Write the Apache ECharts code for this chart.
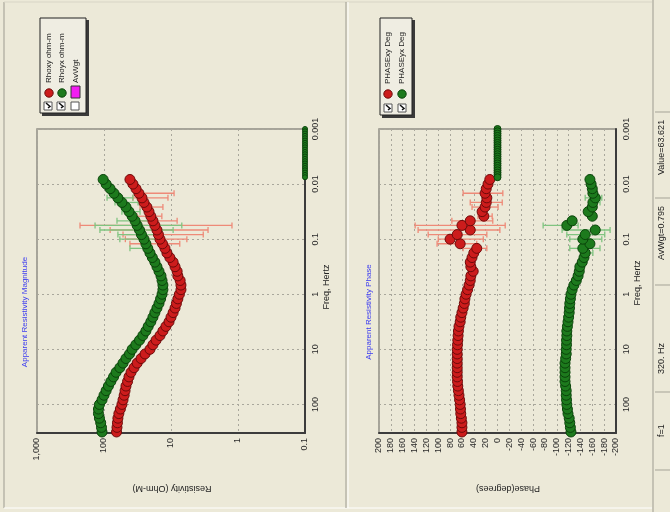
<!DOCTYPE html>
<html><head><meta charset="utf-8">
<script src="https://cdn.jsdelivr.net/npm/echarts@6/dist/echarts.min.js"></script>
<style>html,body{margin:0;padding:0;background:#ECE9D8;overflow:hidden}#c{width:670px;height:512px}</style>
</head><body><div id="c"></div><script>
// ---------- DATA ----------
const freqs = [316.2, 261.0, 215.4, 177.8, 146.8, 121.2, 100.0, 82.54, 68.13, 56.23,
  46.42, 38.31, 31.62, 26.10, 21.54, 17.78, 14.68, 12.12, 10.00, 8.254,
  6.813, 5.623, 4.642, 3.831, 3.162, 2.610, 2.154, 1.778, 1.468, 1.212,
  1.000, 0.8254, 0.6813, 0.5623, 0.4642, 0.3831, 0.3162, 0.2610, 0.2154, 0.1778,
  0.1468, 0.1212, 0.1000, 0.08254, 0.06813, 0.05623, 0.04642, 0.03831, 0.03162, 0.02610,
  0.02154, 0.01778, 0.01468, 0.01212, 0.01000, 0.008254];
const rhoXY = [65, 64, 63, 62, 60, 57, 54, 52, 50, 48.5,
  47, 44.5, 42.4, 39.5, 35.6, 32, 28, 24.4, 20.6, 18.6,
  16.7, 14.6, 13.2, 11.9, 10.7, 10, 9.3, 8.7, 8.3, 7.9,
  7.5, 7.1, 7.1, 7.3, 7.9, 8.1, 8.7, 9.3, 10.4, 11.5,
  12.3, 13.4, 14.6, 15.4, 16.2, 17.4, 18.6, 20, 21.3, 22.9,
  25.3, 27.1, 30.1, 33.3, 37, 41];
const rhoYX = [107, 109, 112, 117, 121, 121, 117, 107, 100, 93,
  86, 79, 72, 66, 58, 52, 47, 41.6, 38, 33.5,
  29.5, 26.3, 23.7, 21.9, 20, 18.6, 17.4, 16.2, 15.1, 14.3,
  13.6, 13.2, 13.2, 13.6, 14.1, 15.1, 16.2, 17.4, 19, 20.6,
  22.2, 23.7, 25.3, 27.6, 29.5, 32, 34.4, 38, 42.3, 47,
  54, 62, 71, 81, 93, 103];
const phaseXY = [60, 60, 60, 61, 62, 62.5, 63, 64, 65, 66,
  67, 67.5, 68, 68, 68, 68, 68, 68, 68, 67.5,
  67, 66.5, 66, 65, 63, 62, 60, 58, 56, 55,
  53, 50.5, 48, 46, 45, 41, 45, 46, 43, 40,
  35, 63, 80, 68, 46, 60, 46, 23, 26, 21,
  19, 18, 21, 19, 16, 13];
const phaseYX = [-124, -123, -122, -121, -119, -118, -117, -116.5, -116, -116,
  -115, -114, -114, -114, -114, -114, -115, -116, -116, -116.5,
  -116.5, -117, -117, -118, -119, -120, -121, -121.5, -122, -123,
  -124, -126, -129, -133, -136, -138, -139, -143, -146, -148,
  -144, -156, -144, -148, -165, -117, -126, -160, -153, -160,
  -161, -165, -161, -160, -158, -156];
// error bars: [freq, low, high]
const rhoXYErr = [[0.01468, 9, 33], [0.01778, 11.1, 37], [0.02610, 13.2, 29], [0.03831, 13.7, 32.4],
  [0.04642, 8.1, 37], [0.05623, 1.23, 228], [0.06813, 2.8, 81], [0.08254, 3.3, 52], [0.1, 5.8, 48], [0.1212, 7.4, 41]];
const rhoYXErr = [[0.01778, 37, 90], [0.02154, 31, 68.5], [0.03162, 29, 54], [0.04642, 18.6, 64],
  [0.05623, 6.9, 136], [0.06813, 9.3, 115], [0.08254, 14.6, 62], [0.1, 16.2, 58], [0.1468, 20.6, 41]];
const phaseXYErr = [[0.01468, -9, 58], [0.02154, -8, 46], [0.02610, -1, 43], [0.03831, 9, 33], [0.04642, 8, 77],
  [0.05623, -13, 139], [0.06813, -4, 134], [0.08254, 18, 117], [0.1, 24, 100], [0.1212, 35, 102], [0.1468, 18, 58]];
const phaseYXErr = [[0.01778, -176, -148], [0.02154, -173, -156], [0.05623, -136, -77], [0.06813, -190, -109],
  [0.08254, -181, -117], [0.1, -176, -122], [0.1468, -173, -122], [0.1778, -161, -144]];
// placeholder (no-data) samples at the low-frequency end
const blankFreqs = [0.001, 0.00110, 0.00121, 0.00133, 0.00147, 0.00162, 0.00178, 0.00196, 0.00215, 0.00237, 0.00261,
  0.00287, 0.00316, 0.00348, 0.00383, 0.00422, 0.00464, 0.00511, 0.00562, 0.00619, 0.00681, 0.00750];
const blankRho = [0.1, 0.1, 0.1, 0.1, 0.1, 0.1, 0.1, 0.1, 0.1, 0.1, 0.1, 0.1, 0.1, 0.1, 0.1, 0.1, 0.1, 0.1, 0.1, 0.1, 0.1, 0.1];
const blankPhase = [0, 0, 0, 0, 0, 0, 0, 0, 0, 0, 0, 0, 0, 0, 0, 0, 0, 0, 0, 0, 0, 0];
// tick labels
const freqTickLabels = {'-3': '0.001', '-2': '0.01', '-1': '0.1', '0': '1', '1': '10', '2': '100'};
const rhoTickLabels = {'-1': '0.1', '0': '1', '1': '10', '2': '100', '3': '1,000'};
const legendRho = ['Rhoxy ohm-m', 'Rhoyx ohm-m', 'AvWgt'];
const legendPhase = ['PHASExy Deg', 'PHASEyx Deg'];
const statusTexts = ['f=1', '320. Hz', 'AvWgt=0.795', 'Value=63.621'];

// ---------- STYLE ----------
const FONT = 'Liberation Sans, Arial, sans-serif';
const RED = '#cc1c1c', RED_B = '#6e0a0a', GRN = '#1d7a1d', GRN_B = '#0a440a';
const RED_E = '#ee8a78', GRN_E = '#80c480';
const BG = '#ECE9D8';

function logLabel(map) {
  return function (v) {
    const l = Math.log10(v), e = Math.round(l);
    if (Math.abs(l - e) > 0.01) return '';
    return map[String(e)] || '';
  };
}
function pairs(xs, ys) { return xs.map((f, i) => [ys[i], f]); }

const darkAxis = {show: true, onZero: false, lineStyle: {color: '#3c3c3c', width: 2}};
const dotted = {show: true, lineStyle: {color: '#a9a79c', type: [2, 3], width: 1}};
const lbl = {fontSize: 9, color: '#2a2a2a', fontFamily: FONT};

function freqAxis(g) {
  return {gridIndex: g, type: 'log', logBase: 10, min: 0.001, max: 330, inverse: true, position: 'right',
    axisLine: darkAxis, axisTick: {show: false}, splitLine: dotted,
    axisLabel: Object.assign({rotate: 90, margin: 6, formatter: logLabel(freqTickLabels), showMaxLabel: false}, lbl)};
}
function errSeries(g, data, color) {
  return {type: 'custom', xAxisIndex: g, yAxisIndex: g, data: data, encode: {x: [1, 2], y: 0},
    z: 2, silent: true, clip: true,
    renderItem: function (params, api) {
      const f = api.value(0), a = api.coord([api.value(1), f]), b = api.coord([api.value(2), f]);
      const st = {stroke: color, lineWidth: 1.3};
      return {type: 'group', children: [
        {type: 'line', shape: {x1: a[0], y1: a[1], x2: b[0], y2: b[1]}, style: st},
        {type: 'line', shape: {x1: a[0], y1: a[1] - 3, x2: a[0], y2: a[1] + 3}, style: st},
        {type: 'line', shape: {x1: b[0], y1: b[1] - 3, x2: b[0], y2: b[1] + 3}, style: st}
      ]};
    }};
}
function dots(g, data, fill, border, size, z) {
  return {type: 'scatter', xAxisIndex: g, yAxisIndex: g, data: data, symbol: 'circle', symbolSize: size,
    itemStyle: {color: fill, borderColor: border, borderWidth: 1, opacity: 1}, z: z || 3, silent: true, clip: false};
}

// ---------- GRAPHIC (frame, titles, legends, status bar) ----------
function vText(x, y, text, size) {
  return {type: 'text', x: x, y: y, rotation: Math.PI / 2, silent: true,
    style: {text: text, fill: '#222', font: (size || 8) + 'px ' + FONT, align: 'left', verticalAlign: 'middle'}};
}
function checkbox(cx, cy, checked) {
  const els = [{type: 'rect', shape: {x: cx - 4, y: cy - 4, width: 8, height: 8},
    style: {fill: '#fff', stroke: '#555', lineWidth: 1}, silent: true}];
  if (checked) els.push({type: 'polyline', shape: {points: [[cx, cy + 2], [cx + 2, cy + 0.5], [cx - 2, cy - 3]]},
    style: {stroke: '#111', lineWidth: 1.5, fill: null}, silent: true});
  return els;
}
const graphics = [];
// window frame
graphics.push({type: 'rect', shape: {x: 0, y: 0, width: 670, height: 512}, style: {fill: BG}, z: -10, silent: true});
graphics.push({type: 'line', shape: {x1: 4, y1: 2, x2: 4, y2: 508}, style: {stroke: '#9d9b90', lineWidth: 1}, silent: true});
graphics.push({type: 'line', shape: {x1: 4, y1: 2, x2: 652, y2: 2}, style: {stroke: '#d8d5c6', lineWidth: 1}, silent: true});
graphics.push({type: 'line', shape: {x1: 4, y1: 508, x2: 652, y2: 508}, style: {stroke: '#ffffff', lineWidth: 1}, silent: true});
graphics.push({type: 'line', shape: {x1: 346, y1: 2, x2: 346, y2: 508}, style: {stroke: '#9d9b90', lineWidth: 1}, silent: true});
graphics.push({type: 'line', shape: {x1: 348, y1: 2, x2: 348, y2: 508}, style: {stroke: '#ffffff', lineWidth: 1}, silent: true});
graphics.push({type: 'line', shape: {x1: 653, y1: 0, x2: 653, y2: 512}, style: {stroke: '#9d9b90', lineWidth: 1}, silent: true});
[112, 198, 285, 392, 470].forEach(function (y) {
  graphics.push({type: 'line', shape: {x1: 655, y1: y, x2: 670, y2: y}, style: {stroke: '#a5a397', lineWidth: 1}, silent: true});
});
graphics.push(vText(662, 437, statusTexts[0], 9));
graphics.push(vText(662, 374, statusTexts[1], 9));
graphics.push(vText(662, 260, statusTexts[2], 9));
graphics.push(vText(662, 175, statusTexts[3], 9));

// titles
graphics.push({type: 'text', x: 25, y: 312, rotation: Math.PI / 2, silent: true,
  style: {text: 'Apparent Resistivity Magnitude', fill: '#3b3bf0', font: '8px ' + FONT, align: 'center', verticalAlign: 'middle'}});
graphics.push({type: 'text', x: 369, y: 312, rotation: Math.PI / 2, silent: true,
  style: {text: 'Apparent Resistivity Phase', fill: '#3b3bf0', font: '8px ' + FONT, align: 'center', verticalAlign: 'middle'}});
// axis names
graphics.push({type: 'text', x: 327, y: 287, rotation: Math.PI / 2, silent: true,
  style: {text: 'Freq, Hertz', fill: '#222', font: '9px ' + FONT, align: 'center', verticalAlign: 'middle'}});
graphics.push({type: 'text', x: 638, y: 283, rotation: Math.PI / 2, silent: true,
  style: {text: 'Freq, Hertz', fill: '#222', font: '9px ' + FONT, align: 'center', verticalAlign: 'middle'}});
graphics.push({type: 'text', x: 172, y: 488, rotation: Math.PI, silent: true,
  style: {text: 'Resistivity (Ohm-M)', fill: '#222', font: '9px ' + FONT, align: 'center', verticalAlign: 'middle'}});
graphics.push({type: 'text', x: 508, y: 488, rotation: Math.PI, silent: true,
  style: {text: 'Phase(degrees)', fill: '#222', font: '9px ' + FONT, align: 'center', verticalAlign: 'middle'}});

// legend 1
graphics.push({type: 'rect', shape: {x: 42, y: 20, width: 47, height: 96}, style: {fill: '#3a3a3a'}, silent: true});
graphics.push({type: 'rect', shape: {x: 40, y: 18, width: 46, height: 95}, style: {fill: '#EFEDE2', stroke: '#222', lineWidth: 1}, silent: true});
[48, 61, 75].forEach(function (x, i) {
  checkbox(x, 106, i < 2).forEach(function (e) { graphics.push(e); });
  if (i < 2) graphics.push({type: 'circle', shape: {cx: x + 1, cy: 93, r: 4.2},
    style: {fill: i === 0 ? RED : GRN, stroke: i === 0 ? RED_B : GRN_B, lineWidth: 1}, silent: true});
  else graphics.push({type: 'rect', shape: {x: x - 4, y: 86, width: 9, height: 12},
    style: {fill: '#f21cf2', stroke: '#333', lineWidth: 1}, silent: true});
  graphics.push(vText(x + 1, 83, legendRho[i]));
});
// legend 2
graphics.push({type: 'rect', shape: {x: 382, y: 20, width: 33, height: 98}, style: {fill: '#3a3a3a'}, silent: true});
graphics.push({type: 'rect', shape: {x: 380, y: 18, width: 32, height: 97}, style: {fill: '#EFEDE2', stroke: '#222', lineWidth: 1}, silent: true});
[388, 402].forEach(function (x, i) {
  checkbox(x, 108, true).forEach(function (e) { graphics.push(e); });
  graphics.push({type: 'circle', shape: {cx: x, cy: 94, r: 4.2},
    style: {fill: i === 0 ? RED : GRN, stroke: i === 0 ? RED_B : GRN_B, lineWidth: 1}, silent: true});
  graphics.push(vText(x, 84, legendPhase[i]));
});

// ---------- OPTION ----------
const option = {
  backgroundColor: BG,
  animation: false,
  textStyle: {fontFamily: FONT},
  grid: [
    {left: 37, top: 129, width: 268, height: 304, show: true, borderColor: '#8f8d84', borderWidth: 1.5, backgroundColor: 'transparent', containLabel: false},
    {left: 379, top: 129, width: 237, height: 304, show: true, borderColor: '#8f8d84', borderWidth: 1.5, backgroundColor: 'transparent', containLabel: false}
  ],
  xAxis: [
    {gridIndex: 0, type: 'log', logBase: 10, min: 0.1, max: 1000, inverse: true, position: 'bottom',
      axisLine: darkAxis, axisTick: {show: false}, splitLine: dotted,
      axisLabel: Object.assign({rotate: 90, margin: 5, formatter: logLabel(rhoTickLabels)}, lbl)},
    {gridIndex: 1, type: 'value', min: -200, max: 200, interval: 20, inverse: true, position: 'bottom',
      axisLine: darkAxis, axisTick: {show: false}, splitLine: dotted,
      axisLabel: Object.assign({rotate: 90, margin: 5}, lbl)}
  ],
  yAxis: [freqAxis(0), freqAxis(1)],
  graphic: graphics,
  series: [
    errSeries(0, rhoXYErr, RED_E),
    errSeries(0, rhoYXErr, GRN_E),
    dots(0, pairs(freqs, rhoXY), RED, RED_B, 10),
    dots(0, pairs(freqs, rhoYX), GRN, GRN_B, 10),
    dots(0, pairs(blankFreqs, blankRho), GRN, GRN_B, 5),
    errSeries(1, phaseXYErr, RED_E),
    errSeries(1, phaseYXErr, GRN_E),
    dots(1, pairs(freqs, phaseXY), RED, RED_B, 10),
    dots(1, pairs(freqs, phaseYX), GRN, GRN_B, 10),
    dots(1, pairs(blankFreqs, blankPhase), GRN, GRN_B, 7)
  ]
};
const chart = echarts.init(document.getElementById('c'), null, {renderer: 'canvas'});
chart.setOption(option);
</script></body></html>
